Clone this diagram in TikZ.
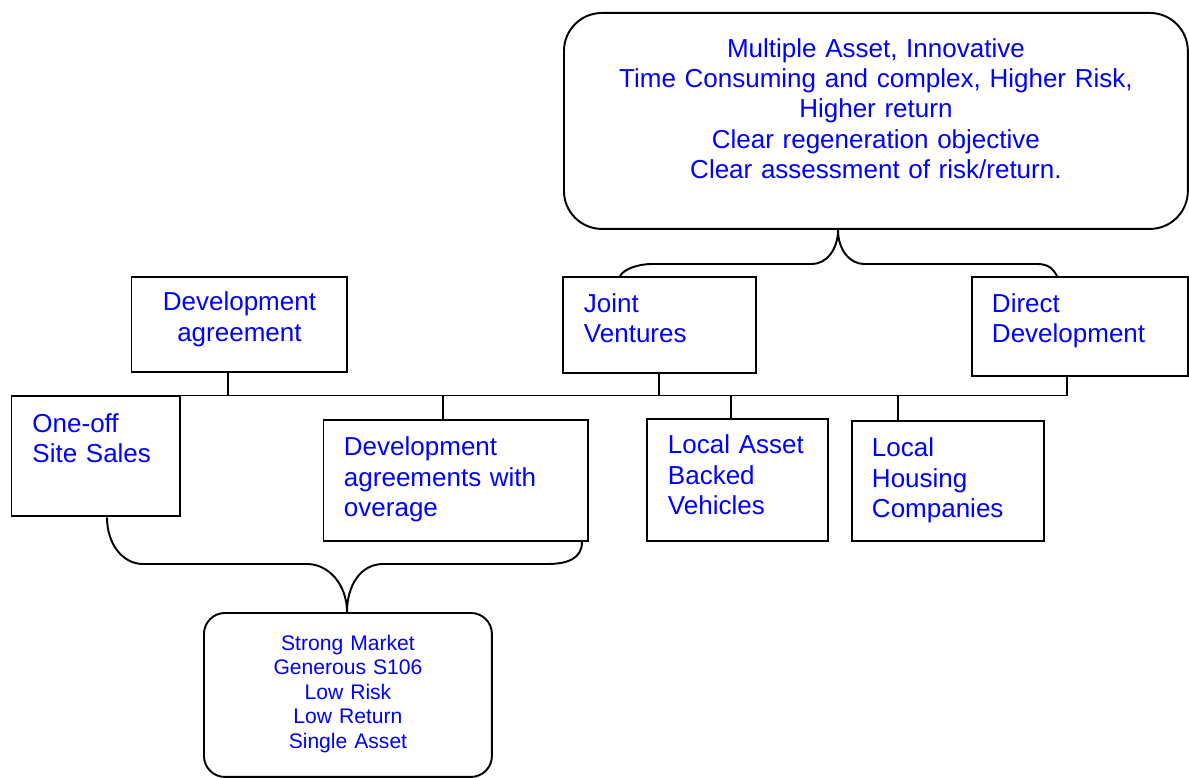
\documentclass[tikz,border=0pt]{standalone}
\usepackage{fontspec}
\setmainfont{Liberation Sans}
\usetikzlibrary{calc}

\begin{document}
\begin{tikzpicture}[x=0.02cm,y=-0.02cm,line width=1.1pt,
  every node/.style={text=blue,font=\fontsize{14.8}{17.2}\selectfont,inner ysep=0pt,anchor=north west},
  sqbox/.style={draw=black,rectangle,align=left,inner xsep=0.42cm},
  rbox/.style={draw=black,rectangle,rounded corners=#1,align=center,inner xsep=0.2cm}]
\useasboundingbox (0,0) rectangle (1189,777);
% ---------- top: multiple asset route ----------
\node[rbox=0.76cm,text width=12.08cm,text height=0.89cm,text depth=3.43cm] (top) at (563,12)
  {Multiple Asset, Innovative\\Time Consuming and complex, Higher Risk,\\Higher return\\Clear regeneration objective\\Clear assessment of risk/return.};
% ---------- upper row ----------
\node[sqbox,align=center,inner xsep=0.2cm,text width=3.92cm,text height=0.68cm,text depth=1.22cm] (devagr) at (130.5,276) {Development\\agreement};
\node[sqbox,text width=3.02cm,text height=0.71cm,text depth=1.21cm] (jv) at (562,276) {Joint\\Ventures};
\node[sqbox,inner xsep=0.4cm,text width=3.52cm,text height=0.71cm,text depth=1.27cm] (dd) at (971,276) {Direct\\Development};
% ---------- lower row ----------
\node[sqbox,text width=2.53cm,text height=0.72cm,text depth=1.68cm] (oneoff) at (10.5,395.5) {One-off\\Site Sales};
\node[sqbox,inner xsep=0.41cm,text width=4.47cm,text height=0.72cm,text depth=1.70cm] (dao) at (322.5,419) {Development\\agreements with\\overage};
\node[sqbox,text width=2.78cm,text height=0.70cm,text depth=1.74cm] (labv) at (646,418) {Local Asset\\Backed\\Vehicles};
\node[sqbox,inner xsep=0.4cm,text width=3.04cm,text height=0.72cm,text depth=1.68cm] (lhc) at (851,420) {Local\\Housing\\Companies};
% ---------- bottom: single asset route ----------
\node[rbox=0.42cm,font=\fontsize{12}{13.9}\selectfont,text width=5.36cm,text height=0.75cm,text depth=2.53cm] (bot) at (203,612)
  {Strong Market\\Generous S106\\Low Risk\\Low Return\\Single Asset};
% ---------- bus line and drops ----------
\draw (oneoff.north west) -- (1067,0 |- oneoff.north) -- (1067,0 |- dd.south);
\draw (228,0 |- devagr.south) -- (228,0 |- oneoff.north);
\draw (jv.south) -- (jv.south |- oneoff.north);
\draw (443,0 |- oneoff.north) -- (443,0 |- dao.north);
\draw (731,0 |- oneoff.north) -- (731,0 |- labv.north);
\draw (898,0 |- oneoff.north) -- (898,0 |- lhc.north);
% ---------- braces ----------
\draw (620,0 |- jv.north) .. controls +(4,-7) and +(-14,0) .. (652,264) -- (812,264)
  .. controls +(14,0) and +(0,20) .. (838,0 |- top.south)
  .. controls +(0,20) and +(-14,0) .. (864,264) -- (1037,264)
  .. controls +(12,0) and +(-4,-7) .. (1057,0 |- dd.north);
\draw (107,0 |- oneoff.south) .. controls +(0,27) and +(-20,0) .. (143,564) -- (307,564)
  .. controls +(22,0) and +(0,-27) .. (347,0 |- bot.north)
  .. controls +(0,-27) and +(-22,0) .. (383,564) -- (547,564)
  .. controls +(20,0) and +(0,17) .. (582,0 |- dao.south);
\end{tikzpicture}
\end{document}
